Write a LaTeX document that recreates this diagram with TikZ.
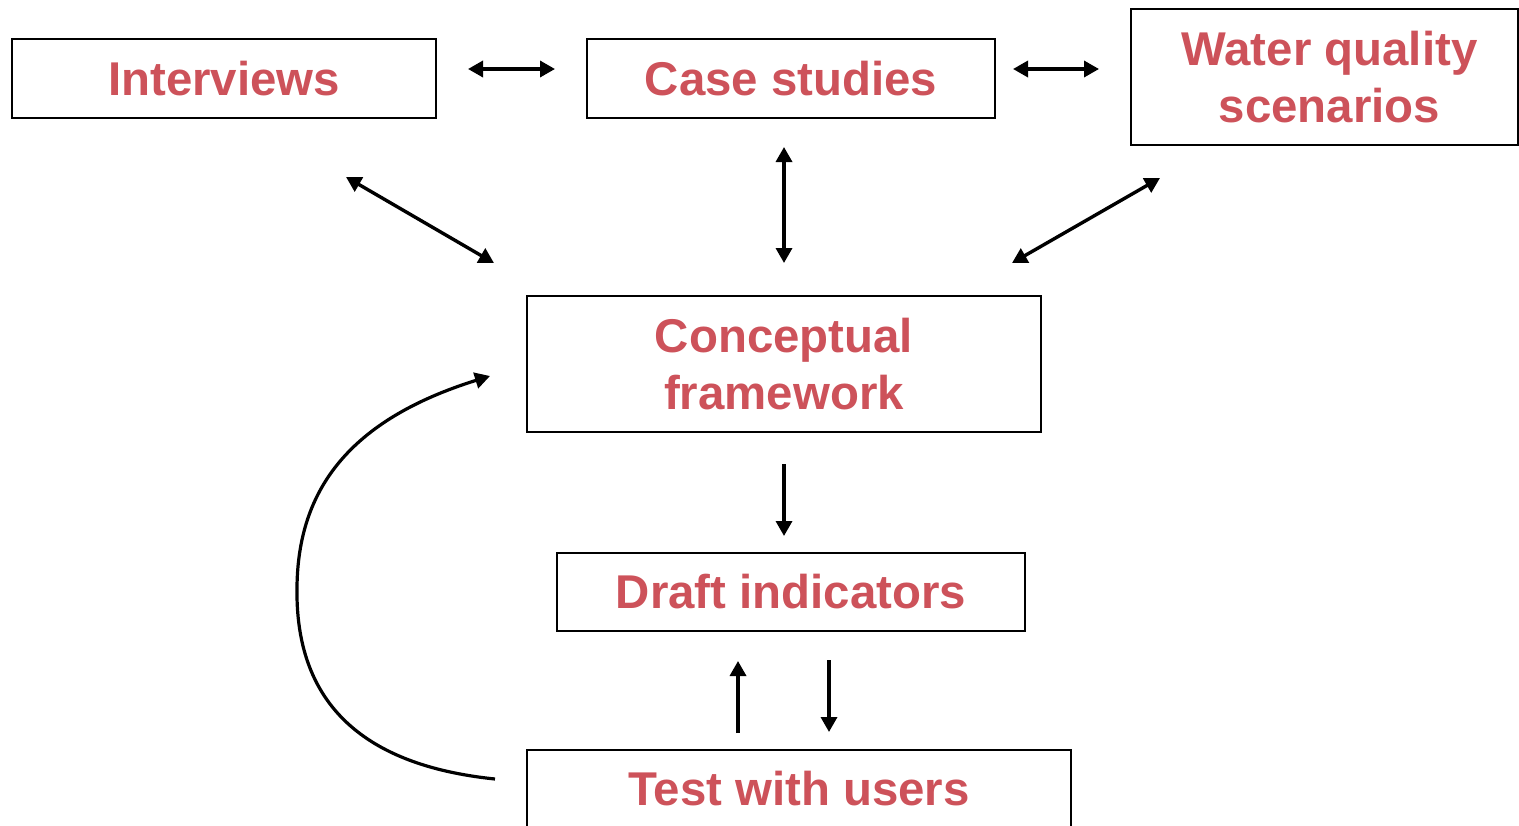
\documentclass[tikz,border=0pt]{standalone}
\usepackage{fontspec}
\setmainfont{Liberation Sans}
\usetikzlibrary{arrows.meta}
\definecolor{boxred}{RGB}{205,82,90}
\tikzset{
  box/.style={draw,line width=1pt,inner sep=0pt,text=boxred,align=center,
    font=\bfseries\fontsize{23.7}{28.2}\selectfont},
  arr/.style={line width=1.7pt,-{Triangle[length=7.5pt,width=8pt]}},
  darr/.style={line width=1.7pt,{Triangle[length=7.5pt,width=8pt]}-{Triangle[length=7.5pt,width=8pt]}}
}
\begin{document}
\begin{tikzpicture}[x=0.5pt,y=-0.5pt]
\useasboundingbox (0,0) rectangle (1519,825);
\node[box,minimum width=212pt,minimum height=39.5pt] (interviews) at (224,78.5) {Interviews};
\node[box,minimum width=204pt,minimum height=39.5pt] (cases) at (791,78.5) {Case studies};
\node[box,minimum width=193.5pt,minimum height=68pt] (water) at (1324.5,77) {\hspace*{5pt}Water quality\\\hspace*{5pt}scenarios};
\node[box,minimum width=257pt,minimum height=68pt] (concept) at (784,364) {Conceptual\\framework};
\node[box,minimum width=234pt,minimum height=39pt] (draft) at (791,592) {Draft indicators};
\node[box,minimum width=272pt,minimum height=39pt] (test) at (799,789) {Test with users};
\coordinate (cw) at ([shift={(17,-9.5)}]cases.east);
\coordinate (loop) at ([shift={(-229,223)}]concept.west);
\draw[darr] ([shift={(31,-9.5)}]interviews.east) -- ([shift={(-31,-9.5)}]cases.west);
\draw[darr,shorten >=15.5pt] (cw) -- (cw -| water.west);
\draw[darr] ([shift={(122,58)}]interviews.south) -- ([shift={(-290,-32)}]concept.north);
\draw[darr] ([shift={(-7,28)}]cases.south) -- ([shift={(0,-32)}]concept.north);
\draw[darr] ([shift={(-164.5,32)}]water.south) -- ([shift={(228,-32)}]concept.north);
\draw[arr] ([shift={(0,31)}]concept.south) -- ([shift={(-7,-16)}]draft.north);
\draw[arr] ([shift={(-61,-16)}]test.north) -- ([shift={(-53,29)}]draft.south);
\draw[arr] ([shift={(38,28)}]draft.south) -- ([shift={(30,-17)}]test.north);
\draw[arr,line width=1.6pt] ([shift={(-31,-10)}]test.west) .. controls +(-136,-14) and +(-2,113) .. (loop)
  .. controls +(1,-97) and +(-141,44) .. ([shift={(-36,12)}]concept.west);
\end{tikzpicture}
\end{document}
